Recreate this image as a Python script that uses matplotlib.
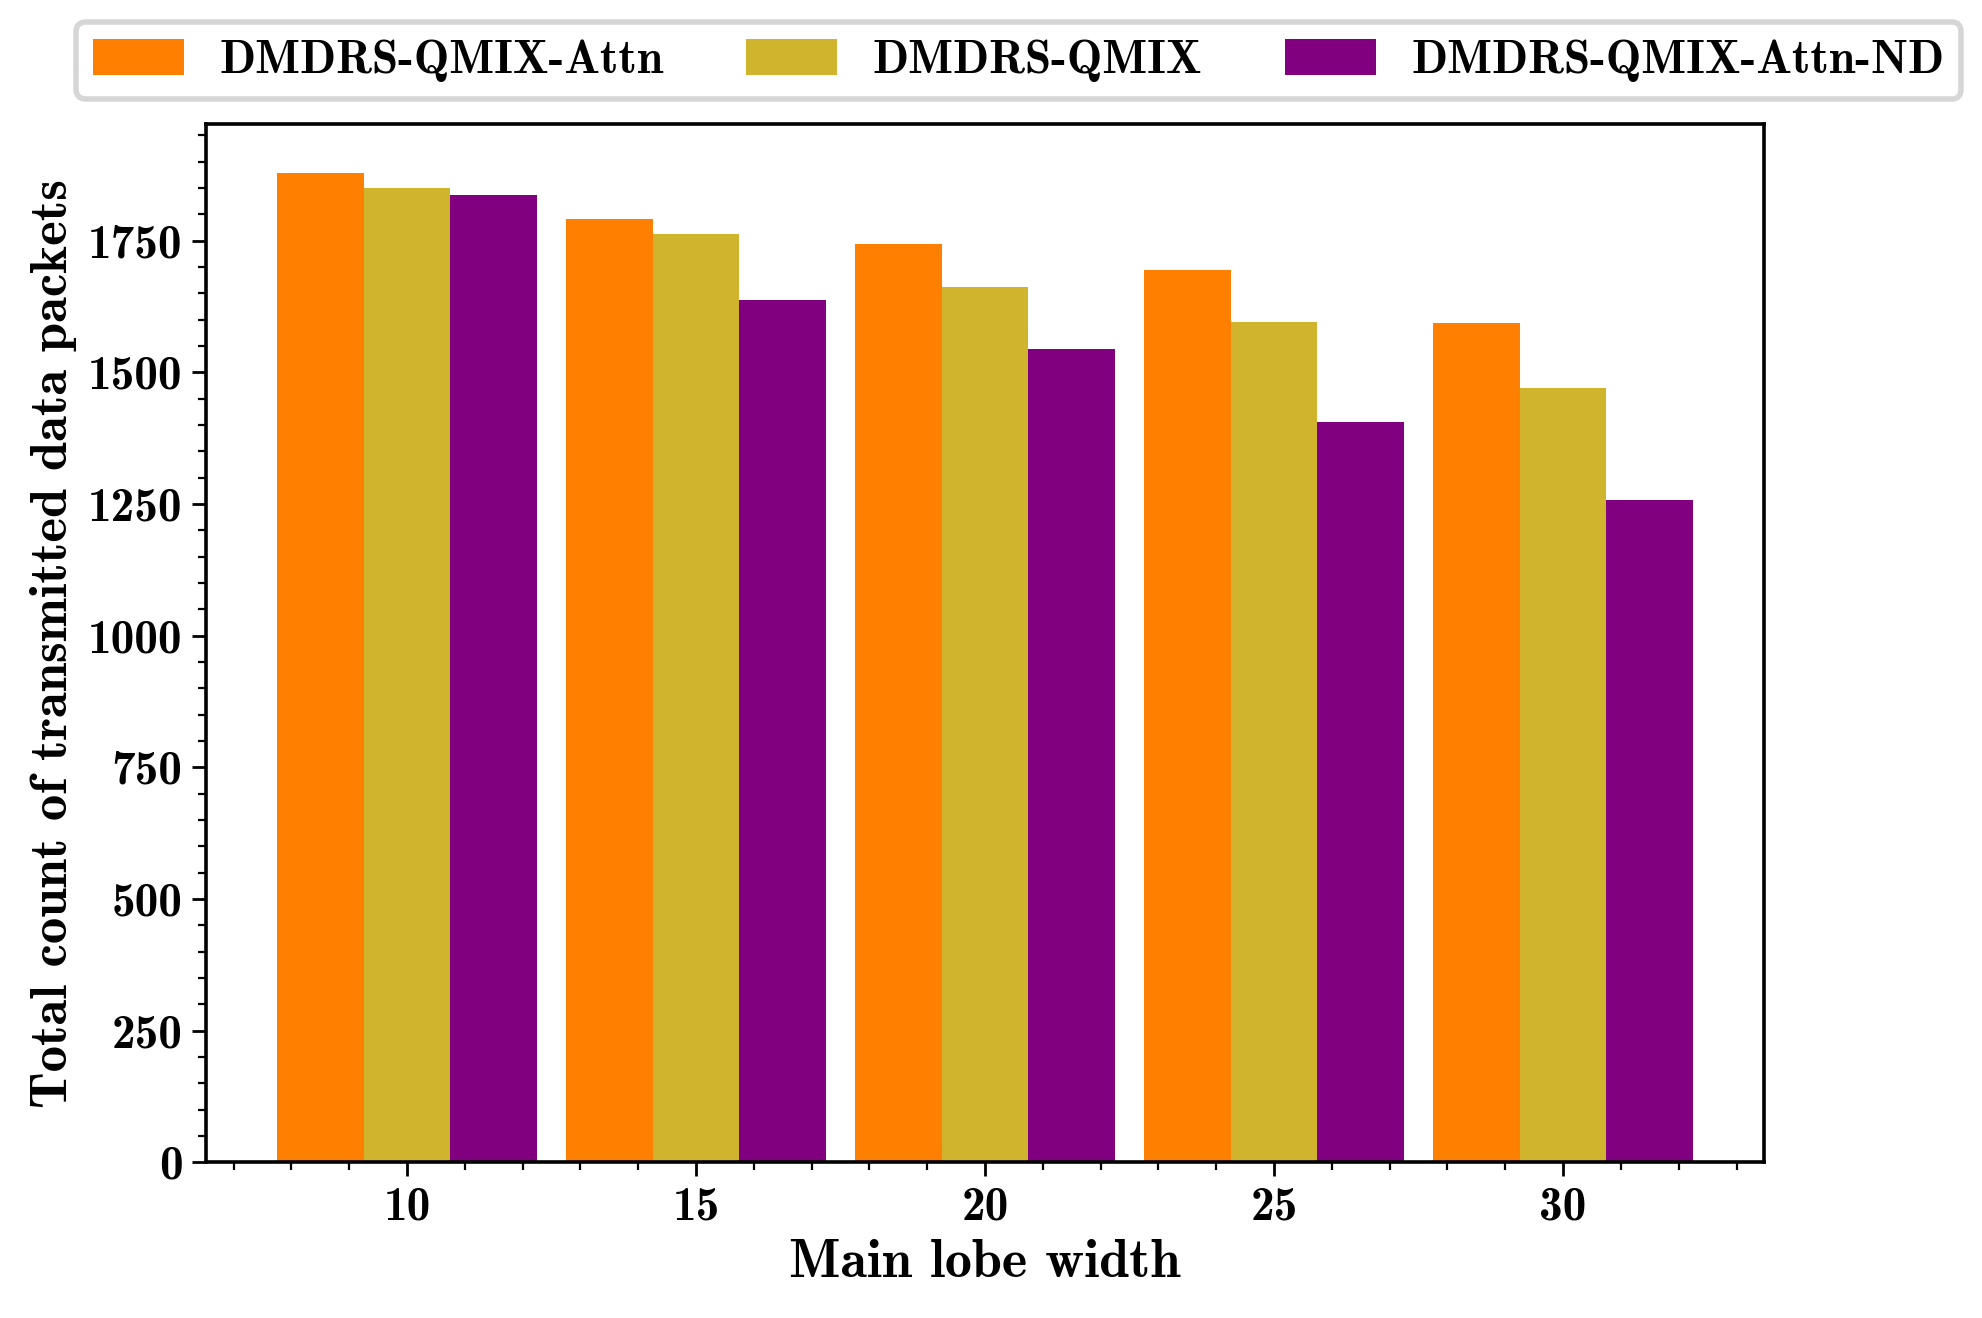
import numpy as np
import matplotlib

matplotlib.use("Agg")
import matplotlib.pyplot as plt
from matplotlib.ticker import MultipleLocator

# main lobe width groups
widths = [10, 15, 20, 25, 30]
series_names = ["DMDRS-QMIX-Attn", "DMDRS-QMIX", "DMDRS-QMIX-Attn-ND"]
attn = [1878, 1791, 1743, 1695, 1594]
qmix = [1851, 1762, 1663, 1596, 1471]
attn_nd = [1836, 1637, 1545, 1406, 1257]
colors = ["#FF7F00", "#D1B42E", "#800080"]

plt.rcParams["font.family"] = ["cmb10", "DejaVu Serif"]
plt.rcParams["mathtext.fontset"] = "cm"
plt.rcParams["axes.unicode_minus"] = False


def main():
    fig = plt.figure(figsize=(9.91, 6.59), dpi=200)
    ax = fig.add_axes([0.104, 0.118, 0.786, 0.788])

    x = np.array(widths, dtype=float)
    bw = 1.5
    for i, (vals, name) in enumerate(zip([attn, qmix, attn_nd], series_names)):
        ax.bar(x + (i - 1) * bw, vals, width=bw, color=colors[i], label=name)

    ax.set_xticks(widths)
    ax.xaxis.set_minor_locator(MultipleLocator(1))
    ax.yaxis.set_major_locator(MultipleLocator(250))
    ax.yaxis.set_minor_locator(MultipleLocator(50))
    ax.tick_params(which="major", direction="out", length=5.0, width=1.0, labelsize=17)
    ax.tick_params(which="minor", direction="out", length=3.0, width=0.8)
    for sp in ax.spines.values():
        sp.set_linewidth(1.3)

    ax.set_xlabel("Main lobe width", fontsize=19.5)
    ax.set_ylabel("Total count of transmitted data packets", fontsize=19)

    leg = fig.legend(
        loc="upper center",
        bbox_to_anchor=(0.514, 0.983),
        borderaxespad=0.0,
        ncol=3,
        fontsize=17,
        frameon=True,
        fancybox=True,
        handlelength=1.93,
        handleheight=0.8,
        handletextpad=0.75,
        columnspacing=1.75,
        borderpad=0.35,
    )
    leg.get_frame().set_edgecolor("#cccccc")
    leg.get_frame().set_linewidth(2.0)

    fig.savefig("out.png", dpi=200)


if __name__ == "__main__":
    main()
